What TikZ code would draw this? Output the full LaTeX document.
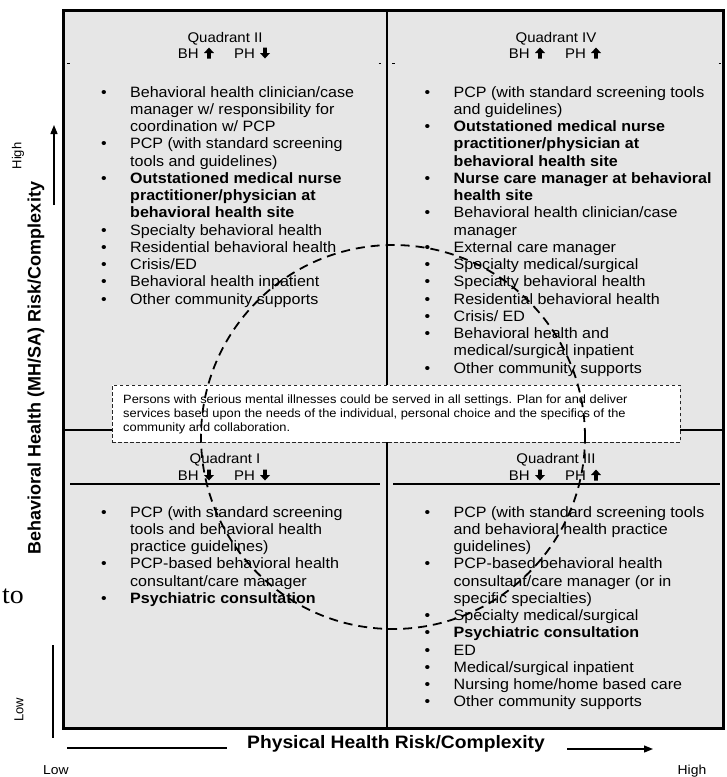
\documentclass[tikz,border=0pt]{standalone}
\usepackage{fontspec}
\setmainfont{Liberation Sans}[FakeStretch=1.07]
\newfontfamily\rotfont{Liberation Sans}
\newfontfamily\tofont{Liberation Serif}[FakeStretch=1.07]
\usetikzlibrary{arrows.meta}
\definecolor{quadgray}{RGB}{230,230,230}
\newcommand\bul{\makebox[29pt][l]{•}}
\newcommand\ind{\hspace*{29pt}}
\tikzset{
  qlist/.style={anchor=base west, inner sep=0pt, font=\fontsize{15}{17.25}\selectfont},
  qhead/.style={anchor=base, inner sep=0pt, font=\fontsize{14}{16}\selectfont},
  bhtext/.style={anchor=base east, inner sep=0pt, font=\fontsize{14}{16}\selectfont},
  phtext/.style={anchor=base west, inner sep=0pt, font=\fontsize{14}{16}\selectfont},
  uparr/.pic={\fill (-1.8,0)--(-1.8,-5.5)--(-5,-5.5)--(0,-11)--(5,-5.5)--(1.8,-5.5)--(1.8,0)--cycle;},
  dnarr/.pic={\fill (-1.8,-11)--(-1.8,-5.5)--(-5,-5.5)--(0,0)--(5,-5.5)--(1.8,-5.5)--(1.8,-11)--cycle;},
  frame/.style={line width=3pt},
  midline/.style={line width=2.5pt},
  hmid/.style={line width=2pt},
  headline/.style={line width=1.1pt},
  notebox/.style={draw=black!85, dash pattern=on 3.5pt off 2.5pt, line width=0.9pt, fill=white, inner sep=0pt},
  circ/.style={dash pattern=on 9pt off 6pt, line width=1.8pt},
  axisline/.style={line width=1.3pt},
  axisarrow/.style={line width=1.3pt, -{Triangle[length=9pt,width=7pt]}},
  axlabel/.style={inner sep=0pt, font=\fontsize{13}{15}\selectfont},
  rotlabel/.style={inner sep=0pt, rotate=90, font=\rotfont\fontsize{13}{15}\selectfont},
  axtitle/.style={inner sep=0pt, font=\bfseries\fontsize{18}{20}\selectfont},
}
\begin{document}
\begin{tikzpicture}[x=1pt,y=-1pt]
\useasboundingbox (0,0) rectangle (727,777);
% background and grid
\fill[quadgray] (63,10) rectangle (723.5,728);
\coordinate (vtop) at (387,10);
\coordinate (vbot) at (387,728);
\draw[midline] (vtop) -- (vbot);
\coordinate (hleft) at (63,430);
\coordinate (hright) at (723.5,430);
\draw[hmid] (hleft) -- (hright);
\draw[frame] (63,10) rectangle (723.5,728);
% faint header rule ends in top quadrants
\draw[line width=1pt] (67,63) -- (69.5,63) (378.5,63) -- (381,63) (392,63) -- (394.5,63) (718.5,63) -- (721,63);
% bottom header rules
\coordinate (q1a) at (70,484); \coordinate (q1b) at (380,484);
\coordinate (q3a) at (393,484); \coordinate (q3b) at (720,484);
\draw[headline] (q1a) -- (q1b);
\draw[headline] (q3a) -- (q3b);

% headers
\node[qhead] (h2a) at (225,42) {Quadrant II};
\node[bhtext] (h2bh) at (199,58.5) {BH};
\pic at (209,58.5) {uparr};
\node[phtext] (h2ph) at (234,58.5) {PH};
\pic at (265,58.5) {dnarr};

\node[qhead] (h4a) at (556,42) {Quadrant IV};
\node[bhtext] (h4bh) at (530,58.5) {BH};
\pic at (540,58.5) {uparr};
\node[phtext] (h4ph) at (565,58.5) {PH};
\pic at (596,58.5) {uparr};

\node[qhead] (h1a) at (225,463.5) {Quadrant I};
\node[bhtext] (h1bh) at (199,480.5) {BH};
\pic at (209,480.5) {dnarr};
\node[phtext] (h1ph) at (234,480.5) {PH};
\pic at (265,480.5) {dnarr};

\node[qhead] (h3a) at (556,463.5) {Quadrant III};
\node[bhtext] (h3bh) at (530,480.5) {BH};
\pic at (540,480.5) {dnarr};
\node[phtext] (h3ph) at (565,480.5) {PH};
\pic at (596,480.5) {uparr};

% Quadrant II list
\node[qlist] (q2list) at (101,97) {\begin{tabular}[t]{@{}l@{}}
\bul Behavioral health clinician/case\\
\ind manager w/ responsibility for\\
\ind coordination w/ PCP\\
\bul PCP (with standard screening\\
\ind tools and guidelines)\\
\bul \textbf{Outstationed medical nurse}\\
\ind \textbf{practitioner/physician at}\\
\ind \textbf{behavioral health site}\\
\bul Specialty behavioral health\\
\bul Residential behavioral health\\
\bul Crisis/ED\\
\bul Behavioral health inpatient\\
\bul Other community supports
\end{tabular}};

% Quadrant IV list
\node[qlist] (q4list) at (424.5,97) {\begin{tabular}[t]{@{}l@{}}
\bul PCP (with standard screening tools\\
\ind and guidelines)\\
\bul \textbf{Outstationed medical nurse}\\
\ind \textbf{practitioner/physician at}\\
\ind \textbf{behavioral health site}\\
\bul \textbf{Nurse care manager at behavioral}\\
\ind \textbf{health site}\\
\bul Behavioral health clinician/case\\
\ind manager\\
\bul External care manager\\
\bul Specialty medical/surgical\\
\bul Specialty behavioral health\\
\bul Residential behavioral health\\
\bul Crisis/ ED\\
\bul Behavioral health and\\
\ind medical/surgical inpatient\\
\bul Other community supports
\end{tabular}};

% Quadrant I list
\node[qlist] (q1list) at (101,517) {\begin{tabular}[t]{@{}l@{}}
\bul PCP (with standard screening\\
\ind tools and behavioral health\\
\ind practice guidelines)\\
\bul PCP-based behavioral health\\
\ind consultant/care manager\\
\bul \textbf{Psychiatric consultation}
\end{tabular}};

% Quadrant III list
\node[qlist] (q3list) at (424.5,517) {\begin{tabular}[t]{@{}l@{}}
\bul PCP (with standard screening tools\\
\ind and behavioral health practice\\
\ind guidelines)\\
\bul PCP-based behavioral health\\
\ind consultant/care manager (or in\\
\ind specific specialties)\\
\bul Specialty medical/surgical\\
\bul \textbf{Psychiatric consultation}\\
\bul ED\\
\bul Medical/surgical inpatient\\
\bul Nursing home/home based care\\
\bul Other community supports
\end{tabular}};

% note box
\node[notebox, anchor=north west, minimum width=568pt, minimum height=57pt] (note) at (112,385) {};
\node[anchor=base west, inner sep=0pt, font=\fontsize{12}{13.8}\selectfont] (notetext) at (123,403.5) {\begin{tabular}[t]{@{}l@{}}
Persons with serious mental illnesses could be served in all settings. Plan for and deliver\\
services based upon the needs of the individual, personal choice and the specifics of the\\
community and collaboration.
\end{tabular}};

% dashed circle
\coordinate (cc) at (393,437);
\draw[circ] (cc) circle[radius=192pt];

% vertical axis
\node[inner sep=0pt, rotate=90, font=\rotfont\bfseries\fontsize{18}{20}\selectfont] (ytitle) at (36,368) {Behavioral Health (MH/SA) Risk/Complexity};
\coordinate (ytail) at (54,205);
\coordinate (ytip) at (54,125);
\draw[axisarrow] (ytail) -- (ytip);
\coordinate (ylow1) at (53,645);
\coordinate (ylow2) at (53,738);
\draw[axisline] (ylow1) -- (ylow2);
\node[rotlabel] (yhigh) at (18,156) {High};
\node[rotlabel] (ylow) at (19,710) {Low};
\node[anchor=base west, inner sep=0pt, font=\tofont\fontsize{26}{28}\selectfont] (tostr) at (2,603) {to};

% horizontal axis
\node[axtitle, anchor=base] (xtitle) at (396,748) {Physical Health Risk/Complexity};
\coordinate (xl1) at (67,748);
\coordinate (xl2) at (227,748);
\draw[axisline] (xl1) -- (xl2);
\coordinate (xa1) at (567,749);
\coordinate (xa2) at (653,749);
\draw[axisarrow] (xa1) -- (xa2);
\node[axlabel, anchor=base] (xlow) at (56,774) {Low};
\node[axlabel, anchor=base] (xhigh) at (692,774) {High};
\end{tikzpicture}
\end{document}
